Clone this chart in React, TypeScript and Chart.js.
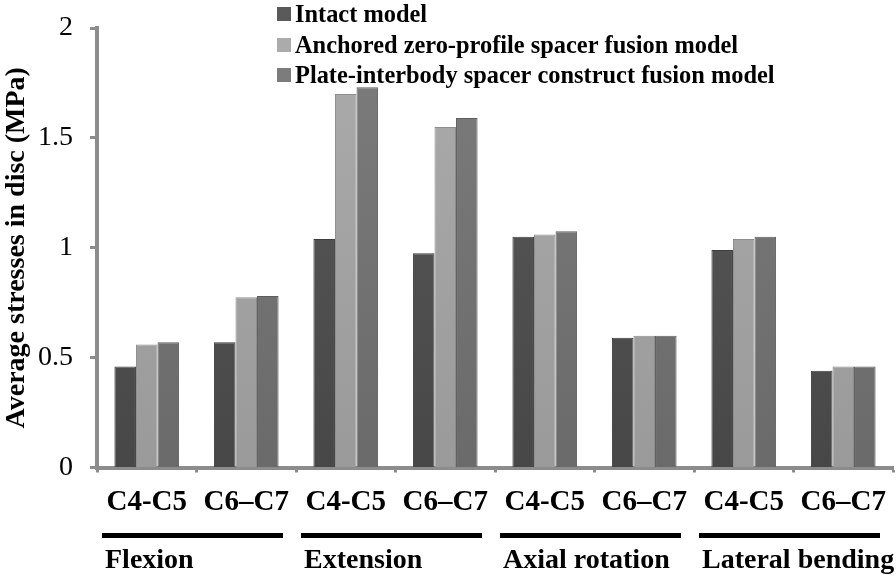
import React, { useEffect, useRef } from "react";
import { Chart, registerables } from "chart.js";

Chart.register(...registerables);

const categories = ["C4-C5", "C6–C7", "C4-C5", "C6–C7", "C4-C5", "C6–C7", "C4-C5", "C6–C7"];
const groups = ["Flexion", "Extension", "Axial rotation", "Lateral bending"];
const seriesNames = [
  "Intact model",
  "Anchored zero-profile spacer fusion model",
  "Plate-interbody spacer construct fusion model",
];
const intact = [0.46, 0.57, 1.04, 0.975, 1.05, 0.59, 0.99, 0.44];
const anchored = [0.56, 0.775, 1.7, 1.55, 1.06, 0.6, 1.04, 0.46];
const plate = [0.57, 0.78, 1.73, 1.59, 1.075, 0.6, 1.05, 0.46];
const yTicks = [0, 0.5, 1, 1.5, 2];

const FONT = "'Liberation Serif', 'Times New Roman', serif";
const colorsTop = ["#5a5a5a", "#ababab", "#7c7c7c"];
const colorsBottom = ["#474747", "#9a9a9a", "#6a6a6a"];
const borders = ["#3c3c3c", "#8c8c8c", "#5e5e5e"];

function grad(ctx: any, i: number) {
  const chart = ctx.chart;
  const area = chart.chartArea;
  if (!area) return colorsTop[i];
  const g = chart.ctx.createLinearGradient(0, area.top, 0, area.bottom);
  g.addColorStop(0, colorsTop[i]);
  g.addColorStop(1, colorsBottom[i]);
  return g;
}

const legendPlugin = {
  id: "customLegend",
  afterDraw(chart: any) {
    const ctx = chart.ctx;
    ctx.save();
    ctx.font = `bold 24.4px ${FONT}`;
    ctx.textBaseline = "alphabetic";
    ctx.textAlign = "left";
    const baselines = [22, 53, 83];
    chart.data.datasets.forEach((ds: any, i: number) => {
      const b = baselines[i];
      ctx.fillStyle = colorsTop[i];
      ctx.fillRect(277, b - 15, 14, 14);
      ctx.fillStyle = "#000";
      ctx.fillText(ds.label, 295, b);
    });
    ctx.restore();
  },
};

const groupPlugin = {
  id: "groupLabels",
  afterDraw(chart: any) {
    const ctx = chart.ctx;
    const x = chart.scales.x;
    ctx.save();
    ctx.font = `bold 28px ${FONT}`;
    ctx.textBaseline = "alphabetic";
    ctx.textAlign = "left";
    groups.forEach((g, gi) => {
      const i0 = gi * 2;
      const i1 = gi * 2 + 1;
      const half = (x.getPixelForValue(1) - x.getPixelForValue(0)) / 2;
      const left = x.getPixelForValue(i0) - half;
      const right = x.getPixelForValue(i1) + half;
      ctx.fillStyle = "#000";
      ctx.fillRect(left + 5, 533, right - left - 18, 5);
      ctx.fillText(g, left + 8, 568);
    });
    ctx.restore();
  },
};

export default function App() {
  const ref = useRef<HTMLCanvasElement>(null);
  useEffect(() => {
    document.body.style.margin = "0";
    const data = [intact, anchored, plate];
    const chart = new Chart(ref.current!, {
      type: "bar",
      data: {
        labels: categories,
        datasets: seriesNames.map((n, i) => ({
          label: n,
          data: data[i],
          backgroundColor: (c: any) => grad(c, i),
          borderColor: borders[i],
          borderWidth: 1,
          barPercentage: 1,
          categoryPercentage: 0.65,
        })),
      },
      options: {
        responsive: false,
        animation: false,
        layout: { padding: { top: 28, right: 3, left: 0, bottom: 0 } },
        plugins: {
          legend: { display: false },
          tooltip: { enabled: false },
        },
        scales: {
          x: {
            grid: {
              display: true,
              offset: true,
              drawOnChartArea: false,
              drawTicks: true,
              tickLength: 5,
              tickColor: "#8c8c8c",
              tickWidth: 3,
            },
            border: { display: true, color: "#8c8c8c", width: 4 },
            ticks: {
              color: "#000",
              font: { family: FONT, size: 29, weight: "bold" },
              padding: 13,
              maxRotation: 0,
              autoSkip: false,
            },
            afterFit: (s: any) => {
              s.height = 108.5;
              s.paddingLeft = 0;
              s.paddingRight = 0;
            },
          },
          y: {
            min: 0,
            max: 2,
            afterBuildTicks: (s: any) => {
              s.ticks = yTicks.map((v) => ({ value: v }));
            },
            grid: {
              display: true,
              drawOnChartArea: false,
              drawTicks: true,
              tickLength: 7,
              tickColor: "#8c8c8c",
              tickWidth: 3,
            },
            border: { display: true, color: "#8c8c8c", width: 4 },
            ticks: {
              color: "#000",
              font: { family: FONT, size: 28, weight: "normal" },
              padding: 17,
              callback: (v: any) => String(v),
            },
            title: {
              display: true,
              text: "Average stresses in disc (MPa)",
              color: "#000",
              font: { family: FONT, size: 28, weight: "bold" },
              padding: { top: 0, bottom: 0 },
            },
            afterFit: (s: any) => {
              s.width = 97;
              s.paddingTop = 0;
              s.paddingBottom = 0;
            },
          },
        },
      },
      plugins: [legendPlugin, groupPlugin],
    });
    return () => chart.destroy();
  }, []);
  return (
    <div style={{ position: "fixed", left: 0, top: 0, width: 896, height: 576, background: "#fff" }}>
      <canvas ref={ref} width={896} height={576} />
    </div>
  );
}
